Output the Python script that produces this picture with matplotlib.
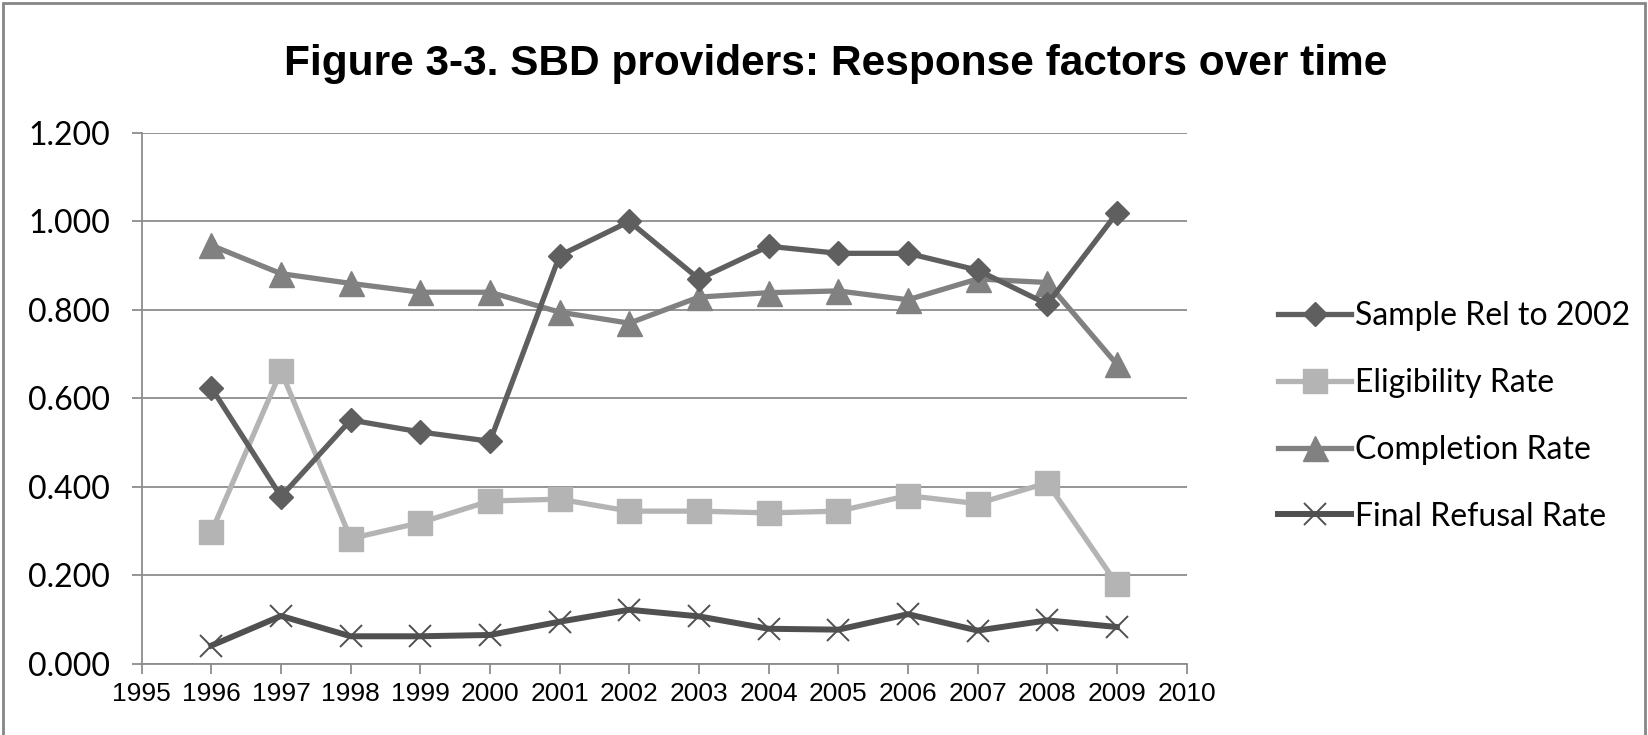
import matplotlib.pyplot as plt
from matplotlib.patches import Rectangle
from matplotlib.ticker import FormatStrFormatter, MultipleLocator

years = [1996, 1997, 1998, 1999, 2000, 2001, 2002, 2003, 2004, 2005, 2006, 2007, 2008, 2009]
sample_rel = [0.624, 0.378, 0.551, 0.524, 0.503, 0.923, 1.000, 0.870, 0.944, 0.928, 0.928, 0.890, 0.813, 1.019]
eligibility = [0.298, 0.662, 0.283, 0.319, 0.368, 0.372, 0.345, 0.345, 0.341, 0.345, 0.380, 0.362, 0.409, 0.180]
completion = [0.946, 0.882, 0.860, 0.840, 0.840, 0.795, 0.770, 0.829, 0.839, 0.843, 0.823, 0.870, 0.862, 0.677]
refusal = [0.041, 0.108, 0.062, 0.062, 0.065, 0.095, 0.122, 0.107, 0.079, 0.077, 0.112, 0.075, 0.098, 0.083]

xticks = list(range(1995, 2011))

fig = plt.figure(figsize=(16.48, 7.35), dpi=100)
ax = fig.add_axes([0.086, 0.097, 0.634, 0.722])

ax.plot(years, sample_rel, color="#5f5f5f", lw=3.8, marker="D", ms=12.5,
        label="Sample Rel to 2002", zorder=4)
ax.plot(years, eligibility, color="#b4b4b4", lw=3.8, marker="s", ms=17.5,
        label="Eligibility Rate", zorder=3)
ax.plot(years, completion, color="#818181", lw=3.8, marker="^", ms=18,
        label="Completion Rate", zorder=3)
ax.plot(years, refusal, color="#505050", lw=4.3, marker="x", ms=16, mew=1.4,
        label="Final Refusal Rate", zorder=3)

ax.set_xlim(1995, 2010)
ax.set_ylim(0, 1.2)
ax.set_xticks(xticks)
ax.yaxis.set_major_locator(MultipleLocator(0.2))
ax.yaxis.set_major_formatter(FormatStrFormatter("%.3f"))
ax.grid(axis="y", color="#8c8c8c", lw=1.3)
ax.set_axisbelow(True)

for s in ["top", "right"]:
    ax.spines[s].set_visible(False)
for s in ["left", "bottom"]:
    ax.spines[s].set_color("#8c8c8c")
    ax.spines[s].set_linewidth(1.3)
ax.tick_params(axis="both", direction="out", length=7, width=1.3, color="#8c8c8c")
ax.tick_params(axis="x", labelsize=19, pad=6)
ax.tick_params(axis="y", labelsize=23, pad=16)
for lbl in ax.get_xticklabels():
    lbl.set_family(["Liberation Sans Narrow", "Liberation Sans"])
for lbl in ax.get_yticklabels():
    lbl.set_family(["Lato", "DejaVu Sans"])

fig.text(0.507, 0.913, "Figure 3-3. SBD providers: Response factors over time",
         ha="center", va="center", fontsize=30.5, fontweight="bold",
         family=["Liberation Sans", "DejaVu Sans"])

ax.legend(loc="center left", bbox_to_anchor=(1.06, 0.466), frameon=False,
          prop={"family": ["Lato", "DejaVu Sans"], "size": 23},
          handlelength=2.3, handletextpad=0.12, labelspacing=1.15)

fig.patches.append(Rectangle((0.002, -0.01), 0.996, 1.006, transform=fig.transFigure,
                             fill=False, edgecolor="#868686", lw=2))

fig.savefig("out.png", dpi=100)
